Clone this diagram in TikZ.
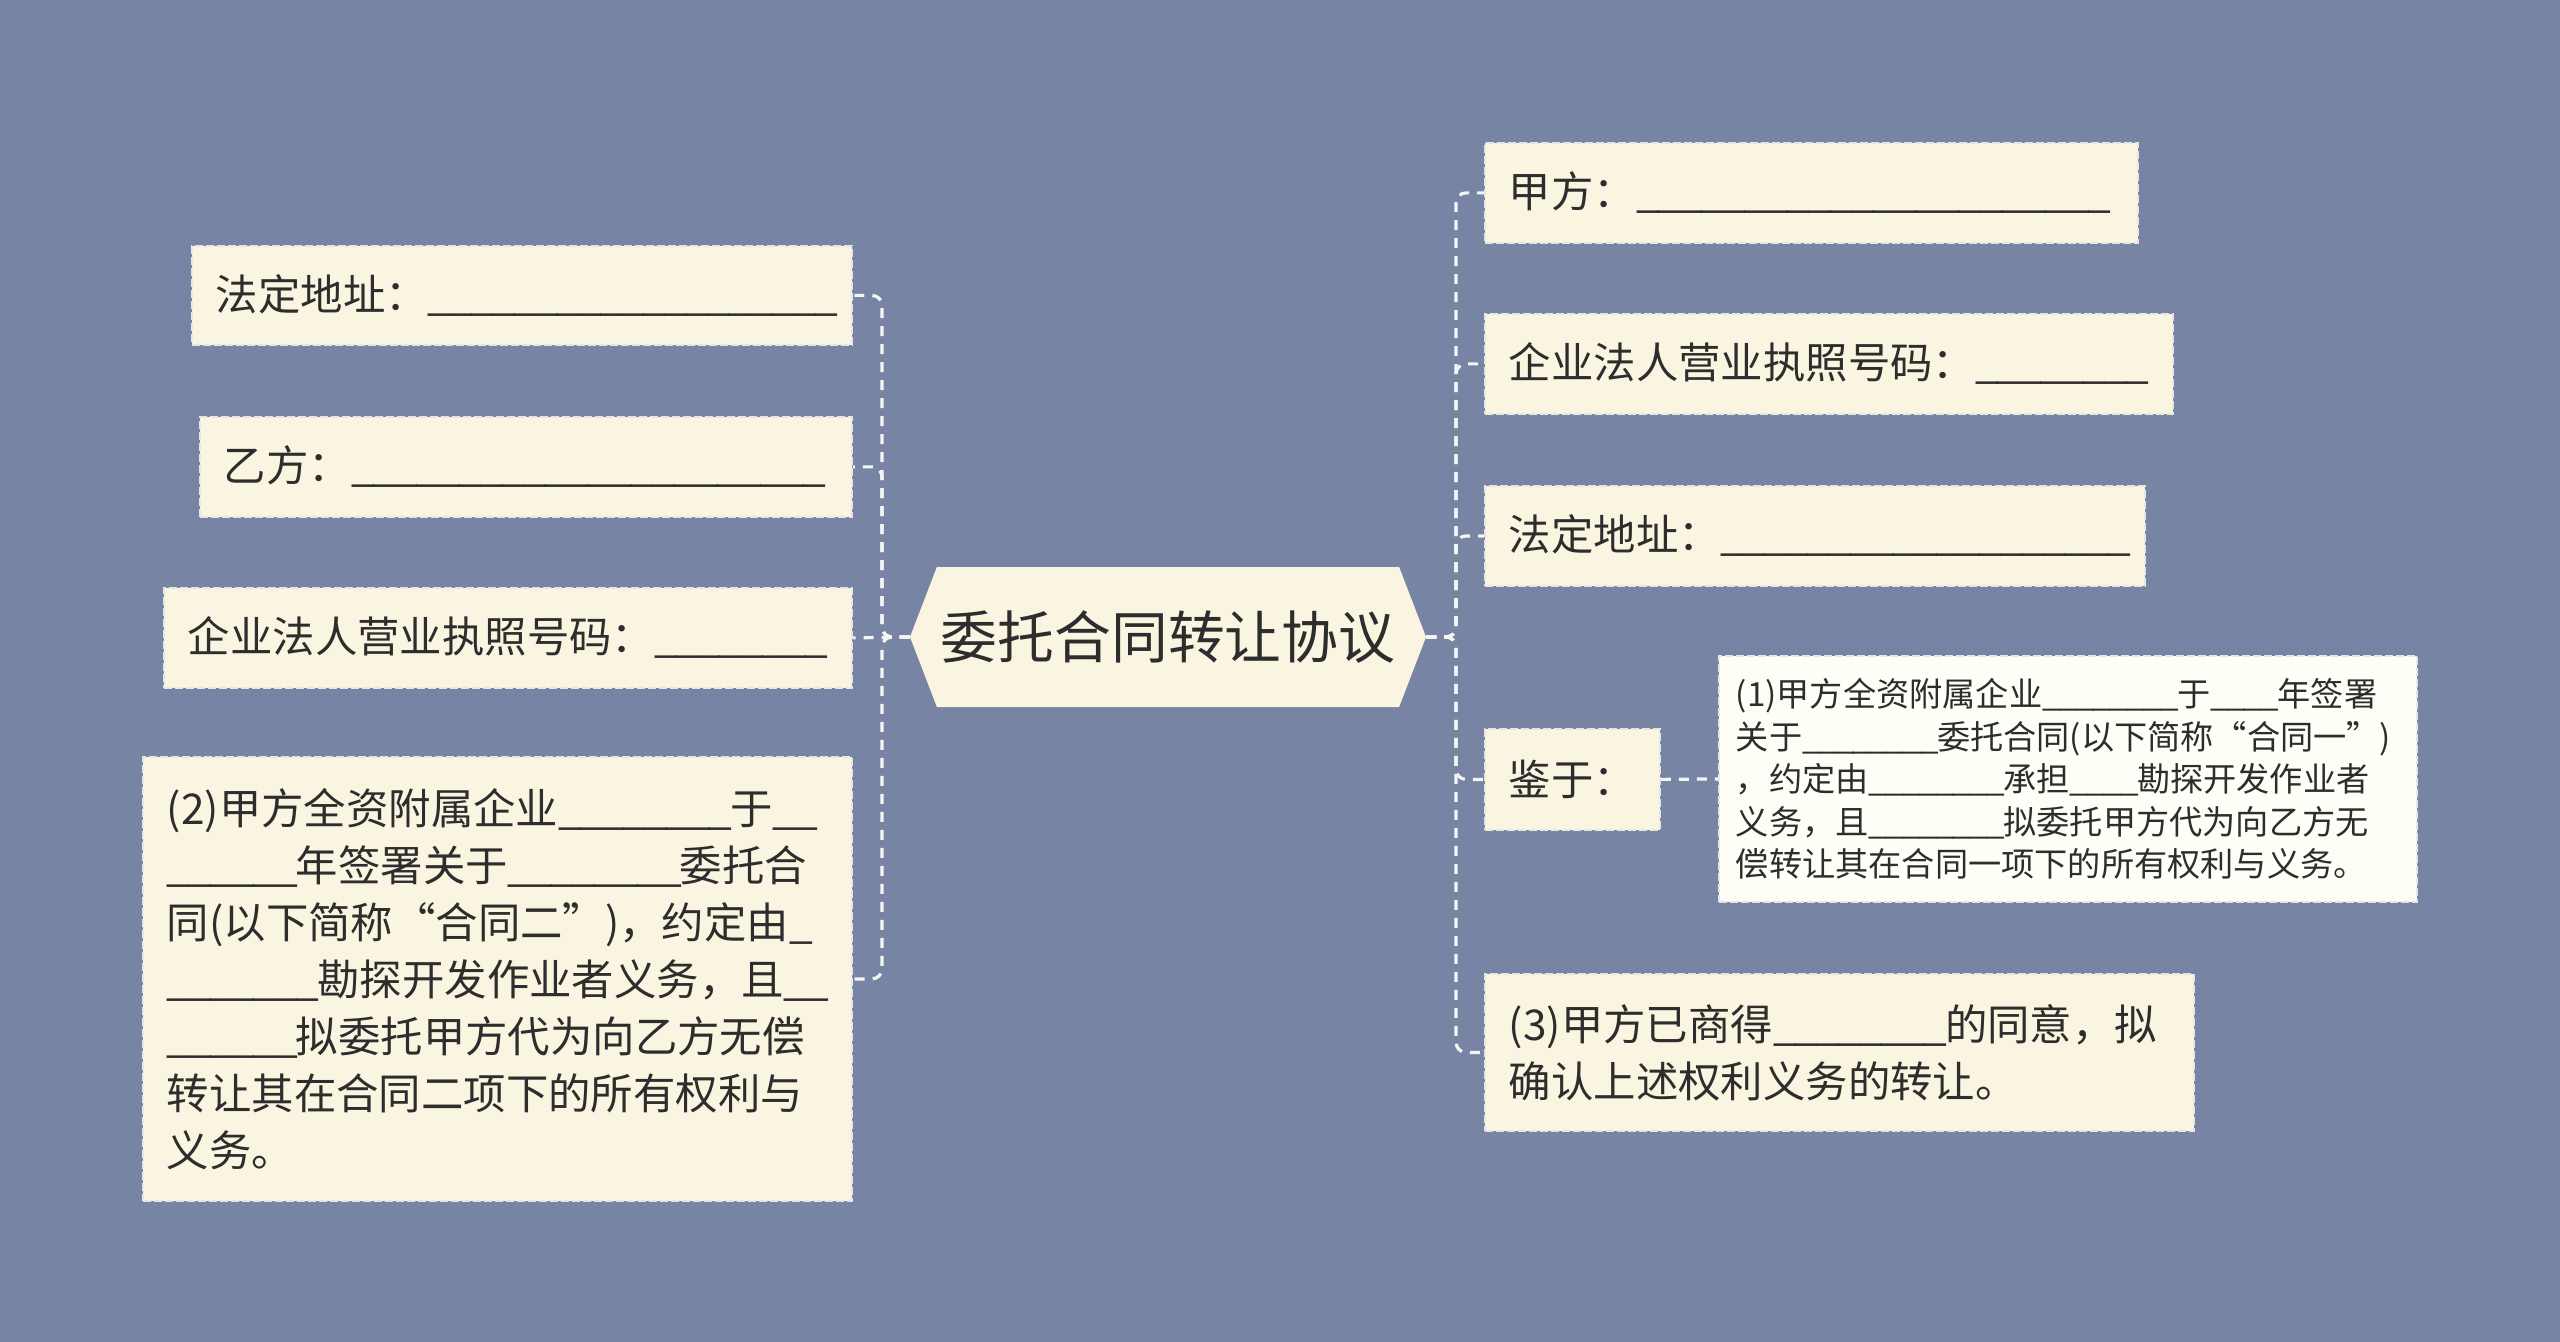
\documentclass[tikz,border=0pt]{standalone}
\usepackage{fontspec}
\newfontfamily\cjk{Noto Sans CJK SC}
\usetikzlibrary{shapes.symbols}
\definecolor{bgcol}{RGB}{119,132,164}
\definecolor{boxfill}{RGB}{250,245,225}
\definecolor{lightfill}{RGB}{254,254,246}
\definecolor{boxline}{RGB}{230,230,226}
\definecolor{linecol}{RGB}{245,245,245}
\definecolor{textcol}{RGB}{45,45,45}
\newcommand\usc{\makebox[0.507em][l]{\_}}
\newcommand\ulfour{\usc\usc\usc\usc}
\newcommand\uleight{\ulfour\ulfour}
\begin{document}
\begin{tikzpicture}[x=0.5pt,y=-0.5pt,
  hexa/.style={signal, signal to=west and east, signal pointer angle=138,
    fill=boxfill, draw=none, minimum height=70pt, minimum width=258pt,
    inner sep=0pt, font=\cjk\fontsize{28.4}{34}\selectfont, text=textcol},
  leaf/.style={draw=boxline, fill=boxfill, line width=0.9pt,
    dash pattern=on 4pt off 1.5pt, inner xsep=12pt, inner ysep=0pt,
    align=left, anchor=north west,
    font=\cjk\fontsize{21.2}{28.5}\selectfont, text=textcol},
  small/.style={fill=lightfill, inner xsep=8.5pt,
    font=\cjk\fontsize{16.6}{21.2}\selectfont},
  conn/.style={draw=linecol, line width=1.6pt, dash pattern=on 5pt off 4pt,
    rounded corners=5pt}]
\fill[bgcol] (0,0) rectangle (2560,1342);
\useasboundingbox (0,0) rectangle (2560,1342);

\node[hexa] (title) at (1168,637) {委托合同转让协议};

% left
\node[leaf, text width=306pt, minimum height=49.5pt] (A1) at (191,245)
  {法定地址：\uleight\uleight\usc\usc\usc};
\node[leaf, text width=302pt, minimum height=50pt] (A2) at (199,416)
  {乙方：\uleight\uleight\ulfour\usc\usc};
\node[leaf, text width=320pt, minimum height=50pt] (A3) at (163,587)
  {企业法人营业执照号码：\uleight};
\node[leaf, text width=330.5pt, minimum height=222pt] (A4) at (142,756)
  {(2)甲方全资附属企业\uleight 于\usc\usc\\
   \usc\usc\usc\usc\usc\usc 年签署关于\uleight 委托合\\
   同(以下简称“合同二”)，约定由\usc\\
   \usc\usc\usc\usc\usc\usc\usc 勘探开发作业者义务，且\usc\usc\\
   \usc\usc\usc\usc\usc\usc 拟委托甲方代为向乙方无偿\\
   转让其在合同二项下的所有权利与\\
   义务。};

% right
\node[leaf, text width=302.5pt, minimum height=50pt] (B1) at (1484,142)
  {甲方：\uleight\uleight\ulfour\usc\usc};
\node[leaf, text width=320pt, minimum height=50pt] (B2) at (1484,313)
  {企业法人营业执照号码：\uleight};
\node[leaf, text width=306pt, minimum height=50pt] (B3) at (1484,485)
  {法定地址：\uleight\uleight\usc\usc\usc};
\node[leaf, text width=63.5pt, minimum height=50.5pt] (B4) at (1484,728)
  {鉴于：};
\node[leaf, small, text width=332pt, minimum height=123pt] (B5) at (1718,655)
  {(1)甲方全资附属企业\uleight 于\ulfour 年签署\\
   关于\uleight 委托合同(以下简称“合同一”)\\
   ，约定由\uleight 承担\ulfour 勘探开发作业者\\
   义务，且\uleight 拟委托甲方代为向乙方无\\
   偿转让其在合同一项下的所有权利与义务。};
\node[leaf, text width=330.5pt, minimum height=78.5pt] (B6) at (1484,973)
  {(3)甲方已商得\uleight 的同意，拟\\
   确认上述权利义务的转让。};

\coordinate (lj) at (882,637);
\coordinate (rj) at (1456,637);

\draw[conn] (title.west) -- (lj) |- (A1.east);
\draw[conn] (title.west) -- (lj) |- (A2.east);
\draw[conn] (title.west) -- (A3.east);
\draw[conn] (title.west) -- (lj) |- (A4.east);

\draw[conn] (title.east) -- (rj) |- (B1.west);
\draw[conn] (title.east) -- (rj) |- (B2.west);
\draw[conn] (title.east) -- (rj) |- (B3.west);
\draw[conn] (title.east) -- (rj) |- (B4.west);
\draw[conn] (title.east) -- (rj) |- (B6.west);
\draw[conn] (B4.east) -- (B5.west);
\end{tikzpicture}
\end{document}
